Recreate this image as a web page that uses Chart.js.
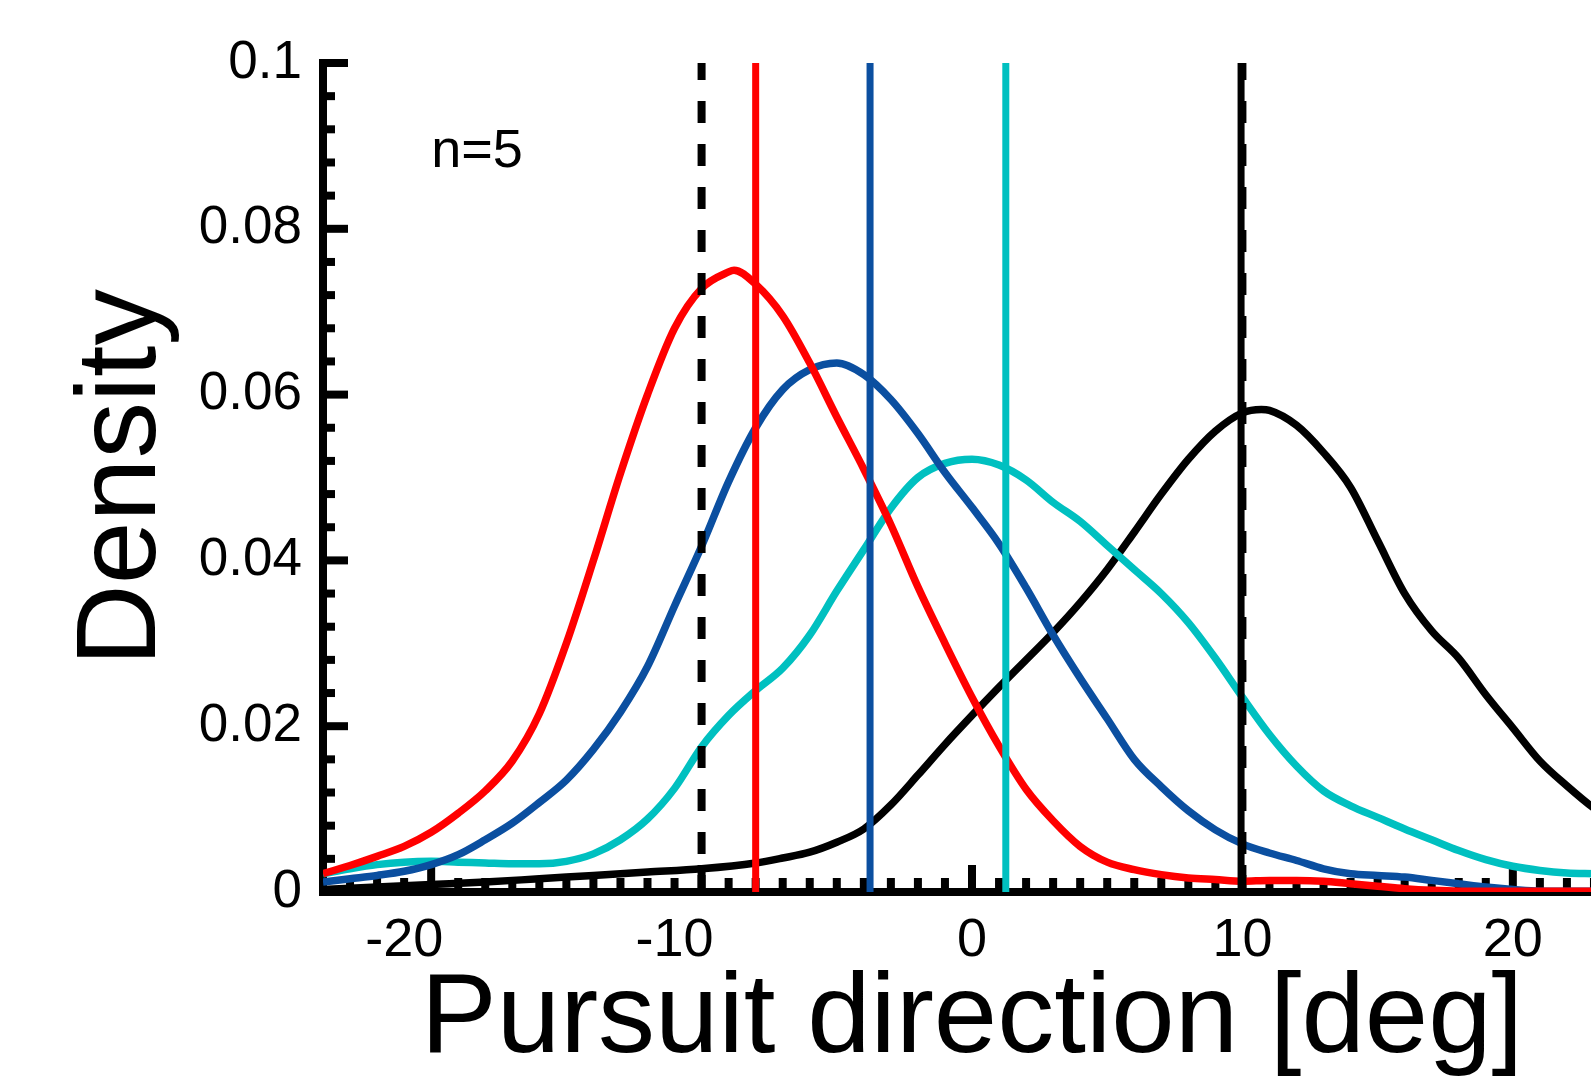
<!DOCTYPE html>
<html>
<head>
<meta charset="utf-8">
<script src="https://cdn.jsdelivr.net/npm/chart.js@4.4.1/dist/chart.umd.min.js"></script>
<style>
    html, body { margin: 0; padding: 0; background: #fff; overflow: hidden; }
</style>
</head>
<body>
<canvas id="myChart" width="1660" height="1080"></canvas>
<script>
// density curves (x in deg, y in density)
const redX = [-24, -23, -22, -21, -20, -19, -18, -17, -16, -15, -14, -13, -12, -11, -10, -9, -8.8, -8, -7, -6, -5, -4, -3, -2, -1, 0, 1, 2, 3, 4, 5, 6, 7, 8, 9, 10, 11, 12, 13, 14, 15, 16, 17, 18, 20, 24];
const redY = [0.0022, 0.0032, 0.0043, 0.0055, 0.0072, 0.0095, 0.0122, 0.0158, 0.0215, 0.0300, 0.0400, 0.0505, 0.0600, 0.0680, 0.0728, 0.0748, 0.0750, 0.0733, 0.0695, 0.0638, 0.0573, 0.0510, 0.0443, 0.0368, 0.0300, 0.0235, 0.0176, 0.0124, 0.0086, 0.0055, 0.0036, 0.0027, 0.0021, 0.0017, 0.0015, 0.0013, 0.0014, 0.0014, 0.0013, 0.0010, 0.0007, 0.0004, 0.0002, 0.0001, 0.0001, 0.0001];

const blueX = [-24, -23, -22, -21, -20, -19, -18, -17, -16, -15, -14, -13, -12, -11, -10, -9, -8, -7, -6, -5, -4, -3, -2, -1, 0, 1, 2, 3, 4, 5, 6, 7, 8, 9, 10, 11, 12, 13, 14, 15, 16, 17, 18, 19, 20, 21, 24];
const blueY = [0.0012, 0.0016, 0.0020, 0.0025, 0.0033, 0.0045, 0.0063, 0.0083, 0.0108, 0.0135, 0.0172, 0.0217, 0.0272, 0.0345, 0.0417, 0.0495, 0.0560, 0.0606, 0.0630, 0.0638, 0.0624, 0.0594, 0.0553, 0.0506, 0.0464, 0.0420, 0.0367, 0.0310, 0.0258, 0.0209, 0.0160, 0.0127, 0.0098, 0.0075, 0.0058, 0.0047, 0.0038, 0.0028, 0.0022, 0.0020, 0.0018, 0.0014, 0.0010, 0.0006, 0.0003, 0.0001, 0.0001];

const cyanX = [-24, -23, -22, -21, -20, -19, -18, -17, -16, -15, -14, -13, -12, -11, -10, -9, -8, -7, -6, -5, -4, -3, -2, -1, 0, 1, 2, 3, 4, 5, 6, 7, 8, 9, 10, 11, 12, 13, 14, 15, 16, 17, 18, 19, 20, 21, 22, 23, 24];
const cyanY = [0.0022, 0.0028, 0.0033, 0.0036, 0.0037, 0.0036, 0.0035, 0.0034, 0.0034, 0.0037, 0.0046, 0.0063, 0.0088, 0.0125, 0.0175, 0.0213, 0.0243, 0.0270, 0.0310, 0.0363, 0.0413, 0.0463, 0.0500, 0.0517, 0.0522, 0.0515, 0.0497, 0.0470, 0.0447, 0.0418, 0.0389, 0.0360, 0.0325, 0.0282, 0.0235, 0.0190, 0.0152, 0.0122, 0.0104, 0.0090, 0.0076, 0.0063, 0.0050, 0.0039, 0.0031, 0.0026, 0.0023, 0.0022, 0.0021];

const blackX = [-24, -22, -20, -18, -16, -14, -12, -10, -8, -7, -6, -5, -4, -3, -2, -1, 0, 1, 2, 3, 4, 5, 6, 7, 8, 9, 10, 10.7, 11, 12, 13, 14, 15, 16, 17, 18, 19, 20, 21, 22, 23, 24];
const blackY = [0.0003, 0.0006, 0.0009, 0.0012, 0.0016, 0.0020, 0.0024, 0.0028, 0.0035, 0.0041, 0.0048, 0.0060, 0.0076, 0.0105, 0.0141, 0.0178, 0.0213, 0.0247, 0.0280, 0.0313, 0.0349, 0.0389, 0.0434, 0.0480, 0.0522, 0.0556, 0.0578, 0.0582, 0.0581, 0.0563, 0.0530, 0.0488, 0.0424, 0.0360, 0.0315, 0.0282, 0.0238, 0.0198, 0.0158, 0.0128, 0.0101, 0.0080];

// mean directions (solid) and target directions (dashed)
const redMean = -8.0;
const blueMean = -3.77;
const cyanMean = 1.25;
const blackMean = 9.95;
const targetDirs = [-10, 10];

const xTickValues = [-20, -10, 0, 10, 20];
const yTickValues = [0, 0.02, 0.04, 0.06, 0.08, 0.1];
const xRange = [-24, 24];
const yRange = [0, 0.1];
const sampleText = 'n=5';
const sampleAt = [-20, 0.0874];

const RED = '#ff0000';
const BLUE = '#0b4fa0';
const CYAN = '#00c0c0';
const BLACK = '#000000';
const FONT = "'Liberation Sans', Arial, sans-serif";

const toPoints = (xs, ys) => xs.map((v, i) => ({ x: v, y: ys[i] }));
const vline = (v) => [{ x: v, y: yRange[1] }, { x: v, y: yRange[0] }];

function curve(xs, ys, color) {
    return {
        data: toPoints(xs, ys),
        borderColor: color,
        borderWidth: 7.5,
        pointRadius: 0,
        fill: false,
        cubicInterpolationMode: 'monotone'
    };
}
function marker(v, color, dashed) {
    return {
        data: vline(v),
        borderColor: color,
        borderWidth: dashed ? 8 : 7,
        borderDash: dashed ? [22, 21] : [],
        borderDashOffset: dashed ? 5 : 0,
        pointRadius: 0,
        fill: false,
        tension: 0
    };
}

// inward minor/major ticks + the n= label
const innerTicks = {
    id: 'innerTicks',
    beforeDatasetsDraw(chart) {
        const { ctx, scales: { x, y } } = chart;
        ctx.save();
        ctx.strokeStyle = BLACK;
        ctx.lineWidth = 8;
        const y0 = y.getPixelForValue(0);
        for (let v = xRange[0]; v <= xRange[1]; v++) {
            const px = x.getPixelForValue(v);
            const len = v % 10 === 0 ? 27 : 14;
            ctx.beginPath();
            ctx.moveTo(px, y0);
            ctx.lineTo(px, y0 - len);
            ctx.stroke();
        }
        const x0 = x.getPixelForValue(xRange[0]);
        for (let i = 0; i <= 25; i++) {
            const py = y.getPixelForValue(i * 0.004);
            const len = i % 5 === 0 ? 25 : 12;
            ctx.beginPath();
            ctx.moveTo(x0, py);
            ctx.lineTo(x0 + len, py);
            ctx.stroke();
        }
        ctx.fillStyle = BLACK;
        ctx.font = '54px ' + FONT;
        ctx.textAlign = 'left';
        ctx.textBaseline = 'alphabetic';
        ctx.fillText(sampleText, x.getPixelForValue(sampleAt[0]), y.getPixelForValue(sampleAt[1]));
        ctx.restore();
    }
};

const config = {
    type: 'line',
    data: {
        datasets: [
            marker(targetDirs[0], BLACK, true),
            marker(targetDirs[1], BLACK, true),
            marker(blackMean, BLACK, false),
            marker(redMean, RED, false),
            marker(blueMean, BLUE, false),
            marker(cyanMean, CYAN, false),
            curve(redX, redY, RED),
            curve(blueX, blueY, BLUE),
            curve(cyanX, cyanY, CYAN),
            curve(blackX, blackY, BLACK)
        ]
    },
    options: {
        responsive: false,
        devicePixelRatio: 1,
        animation: false,
        layout: { padding: { left: 0, top: 63, right: 39, bottom: 0 } },
        plugins: {
            legend: { display: false },
            tooltip: { enabled: false }
        },
        scales: {
            x: {
                type: 'linear',
                min: xRange[0],
                max: xRange[1],
                afterBuildTicks: (scale) => { scale.ticks = xTickValues.map(v => ({ value: v })); },
                afterFit: (scale) => { scale.height = 188; },
                grid: { display: true, drawOnChartArea: false, drawTicks: false },
                border: { display: true, color: BLACK, width: 8 },
                ticks: {
                    color: BLACK,
                    padding: 17,
                    maxRotation: 0,
                    font: { family: FONT, size: 54 },
                    // negative labels sit left of their tick in the original
                    callback: (v) => v < 0 ? String(v) + '\u2002\u2002' : String(v)
                },
                title: {
                    display: true,
                    text: 'Pursuit direction [deg]',
                    color: BLACK,
                    font: { family: FONT, size: 114, lineHeight: 1 },
                    padding: { top: 0, bottom: 2 }
                }
            },
            y: {
                type: 'linear',
                min: yRange[0],
                max: yRange[1],
                afterBuildTicks: (scale) => { scale.ticks = yTickValues.map(v => ({ value: v })); },
                afterFit: (scale) => { scale.width = 323; },
                grid: { display: true, drawOnChartArea: false, drawTicks: false },
                border: { display: true, color: BLACK, width: 8 },
                ticks: {
                    color: BLACK,
                    padding: 21,
                    font: { family: FONT, size: 53 },
                    callback: (v) => String(+v.toFixed(2))
                },
                title: {
                    display: true,
                    text: 'Density',
                    color: BLACK,
                    font: { family: FONT, size: 113, lineHeight: 1 },
                    padding: { top: 67, bottom: 0 }
                }
            }
        }
    },
    plugins: [innerTicks]
};

const ctx = document.getElementById('myChart').getContext('2d');
new Chart(ctx, config);
</script>
</body>
</html>
